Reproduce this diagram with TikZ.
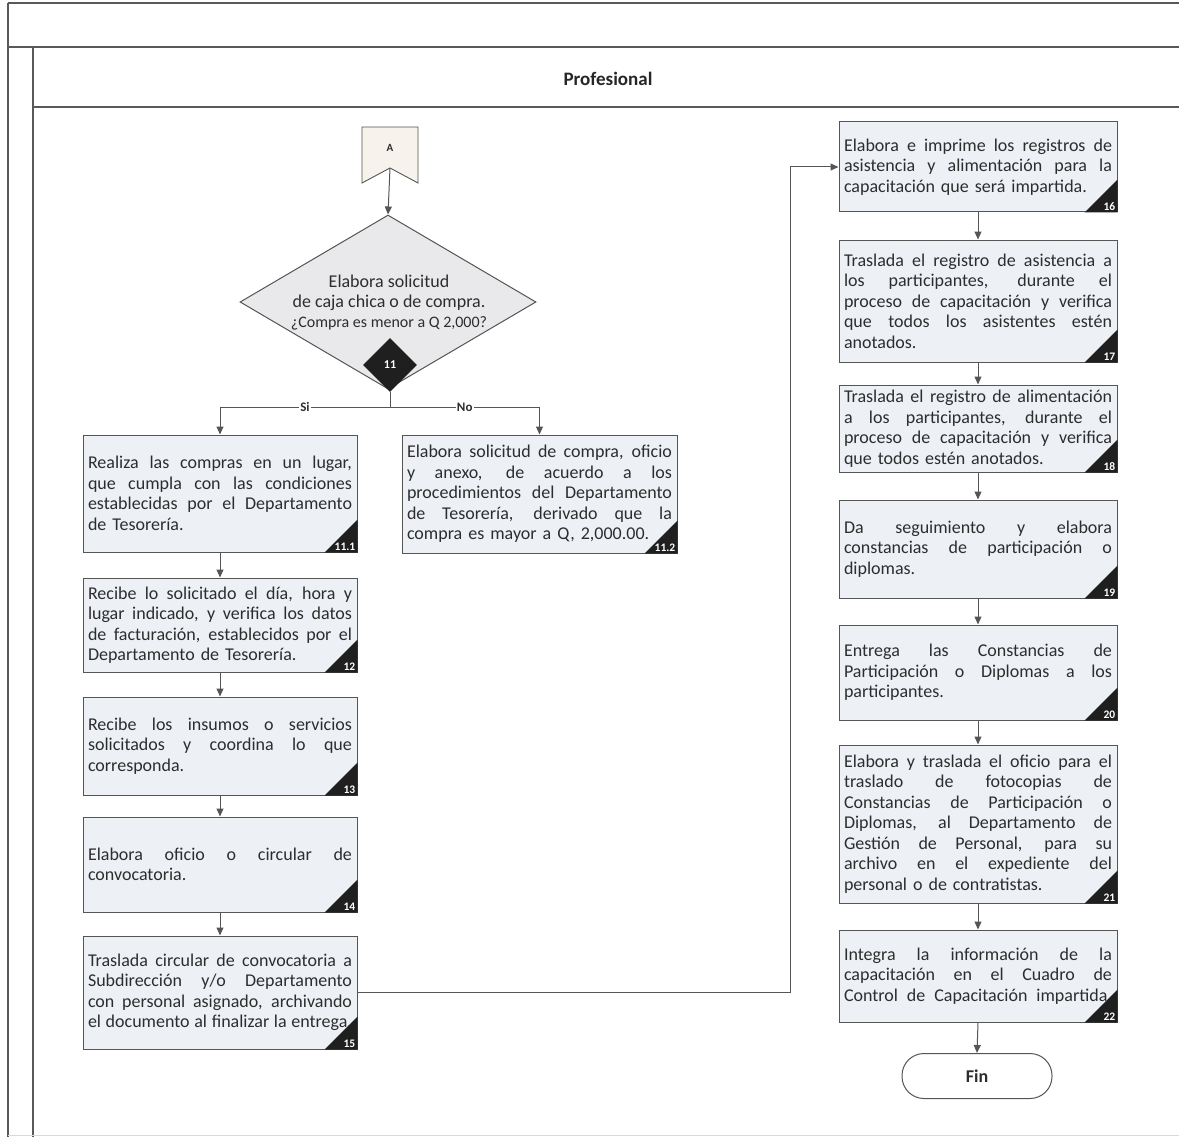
\documentclass[tikz,border=0pt]{standalone}
\usepackage{fontspec}
\setmainfont{Carlito}
\usetikzlibrary{arrows.meta,shapes.geometric}
\definecolor{boxfill}{RGB}{237,241,246}
\definecolor{txt}{RGB}{45,45,45}
\definecolor{lncol}{RGB}{85,85,85}
\definecolor{beige}{RGB}{247,242,236}
\definecolor{dfill}{RGB}{233,233,235}
\newcommand\jl[1]{{\spaceskip=0pt\xspaceskip=0pt\makebox[\linewidth][s]{#1}}\par}
\newcommand\corner[2]{%
  \fill[black!88] (#1.south east) -- ([yshift=33pt]#1.south east) -- ([xshift=-33pt]#1.south east) -- cycle;
  \node[numlbl] (#1-num) at (#1.south east) {#2};}
\begin{document}
\begin{tikzpicture}[x=1pt,y=-1pt,
  pbox/.style={draw=lncol, line width=1pt, fill=boxfill, inner xsep=5pt, inner ysep=0pt,
    align=left, font=\fontsize{18}{20.5}\selectfont, text=txt},
  numlbl/.style={anchor=south east, text=white, font=\fontsize{11.5}{12}\selectfont\bfseries, inner sep=2pt},
  arr/.style={draw=lncol, line width=1pt, -{Triangle[length=8pt,width=7pt]}},
  ln/.style={draw=lncol, line width=1pt},
  frame/.style={draw=black!65, line width=1.6pt},
  lbl/.style={fill=white, inner sep=1pt, font=\fontsize{13}{14}\selectfont\bfseries, text=txt}]
\useasboundingbox (0,0) rectangle (1179,1137);
% frame
\draw[frame, line width=2.6pt] (8,3) -- (1179,3);
\draw[frame] (8,3) -- (8,1137);
\draw[frame] (8,47) -- (1179,47);
\draw[frame] (33,47) -- (33,1137);
\draw[frame] (33,107) -- (1179,107);
\draw[black!15, line width=1pt] (8,1135) -- (1179,1135);
\node[font=\fontsize{19}{22}\selectfont\bfseries, text=black!85] (hdr) at (608,79) {Profesional};

% off-page connector A
\fill[beige] (362,127) -- (418,127) -- (418,183) -- (390,168) -- (362,183) -- cycle;
\draw[ln, line width=0.9pt, line join=miter] (362,127) -- (418,127) -- (418,183) -- (390,168) -- (362,183) -- cycle;
\node[font=\fontsize{11}{12}\selectfont\bfseries, text=txt] (A) at (390,148) {A};
\coordinate (Anotch) at (390,168);

% decision
\node[diamond, draw=lncol, line width=1pt, fill=dfill, minimum width=296pt, minimum height=174pt, inner sep=0pt] (d) at (388,302) {};
\node[align=center, text=txt, font=\fontsize{18}{20}\selectfont] (dtxt) at (389,303)
  {Elabora solicitud\\de caja chica o de compra.\\{\fontsize{16}{20}\selectfont ¿Compra es menor a Q 2,000?}};
\node[diamond, fill=black!88, minimum width=54pt, minimum height=54pt, inner sep=0pt, text=white,
  font=\fontsize{12}{12}\selectfont\bfseries] (d11) at (390,365) {11};
\draw[arr] (Anotch) -- (d.north);

% left column
\node[pbox, text width=264pt, minimum height=117pt] (n111) at (220,493.5) {%
\jl{Realiza las compras en un lugar,}\jl{que cumpla con las condiciones}\jl{establecidas por el Departamento}de Tesorería.};
\corner{n111}{11.1}
\node[pbox, text width=265pt, minimum height=118pt] (n112) at (539.5,494) {%
\jl{Elabora solicitud de compra, oficio}\jl{y anexo, de acuerdo a los}\jl{procedimientos del Departamento}\jl{de Tesorería, derivado que la}compra es mayor a Q, 2,000.00.};
\corner{n112}{11.2}
\node[pbox, text width=264pt, minimum height=94pt] (n12) at (220,625) {%
\jl{Recibe lo solicitado el día, hora y}\jl{lugar indicado, y verifica los datos}\jl{de facturación, establecidos por el}Departamento de Tesorería.};
\corner{n12}{12}
\node[pbox, text width=264pt, minimum height=98pt] (n13) at (220,746) {%
\jl{Recibe los insumos o servicios}\jl{solicitados y coordina lo que}corresponda.};
\corner{n13}{13}
\node[pbox, text width=264pt, minimum height=95pt] (n14) at (220,864.5) {%
\jl{Elabora oficio o circular de}convocatoria.};
\corner{n14}{14}
\node[pbox, text width=264pt, minimum height=113pt] (n15) at (220,992.5) {%
\jl{Traslada circular de convocatoria a}\jl{Subdirección y/o Departamento}\jl{con personal asignado, archivando}\jl{el documento al finalizar la entrega.}};
\corner{n15}{15}

% right column
\node[pbox, text width=268pt, minimum height=90pt] (n16) at (978,167) {%
\jl{Elabora e imprime los registros de}\jl{asistencia y alimentación para la}capacitación que será impartida.};
\corner{n16}{16}
\node[pbox, text width=268pt, minimum height=122pt] (n17) at (978,301) {%
\jl{Traslada el registro de asistencia a}\jl{los participantes, durante el}\jl{proceso de capacitación y verifica}\jl{que todos los asistentes estén}anotados.};
\corner{n17}{17}
\node[pbox, text width=268pt, minimum height=87pt] (n18) at (978,428.5) {%
\jl{Traslada el registro de alimentación}\jl{a los participantes, durante el}\jl{proceso de capacitación y verifica}que todos estén anotados.};
\corner{n18}{18}
\node[pbox, text width=268pt, minimum height=98pt] (n19) at (978,549) {%
\jl{Da seguimiento y elabora}\jl{constancias de participación o}diplomas.};
\corner{n19}{19}
\node[pbox, text width=268pt, minimum height=95pt] (n20) at (978,672.5) {%
\jl{Entrega las Constancias de}\jl{Participación o Diplomas a los}participantes.};
\corner{n20}{20}
\node[pbox, text width=268pt, minimum height=158pt] (n21) at (978,824) {%
\jl{Elabora y traslada el oficio para el}\jl{traslado de fotocopias de}\jl{Constancias de Participación o}\jl{Diplomas, al Departamento de}\jl{Gestión de Personal, para su}\jl{archivo en el expediente del}personal o de contratistas.};
\corner{n21}{21}
\node[pbox, text width=268pt, minimum height=92pt] (n22) at (978,976) {%
\jl{Integra la información de la}\jl{capacitación en el Cuadro de}\jl{Control de Capacitación impartida.}};
\corner{n22}{22}
\node[draw=lncol, line width=1pt, fill=white, rounded corners=22pt, minimum width=150pt, minimum height=45pt,
  font=\fontsize{18}{20}\selectfont\bfseries, text=txt] (fin) at (977,1076) {Fin};

% connectors
\coordinate (split) at (390,407);
\draw[ln] (d11.south) -- (split);
\draw[arr] (split) -| (n111.north) node[lbl, pos=0.25] (lsi) {Si};
\draw[arr] (split) -| (n112.north) node[lbl, pos=0.25] (lno) {No};
\draw[arr] (n111.south) -- (n12.north);
\draw[arr] (n12.south) -- (n13.north);
\draw[arr] (n13.south) -- (n14.north);
\draw[arr] (n14.south) -- (n15.north);
\coordinate (turn) at (790,0);
\draw[arr] (n15.east) -- (n15.east -| turn) |- (n16.west);
\draw[arr] (n16.south) -- (n17.north);
\draw[arr] (n17.south) -- (n18.north);
\draw[arr] (n18.south) -- (n19.north);
\draw[arr] (n19.south) -- (n20.north);
\draw[arr] (n20.south) -- (n21.north);
\draw[arr] (n21.south) -- (n22.north);
\draw[arr] (n22.south) -- (fin.north);
\end{tikzpicture}
\end{document}
